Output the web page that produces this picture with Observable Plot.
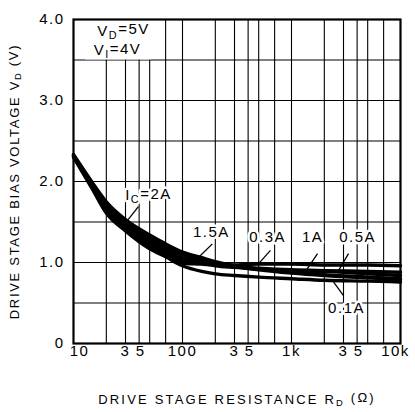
<!DOCTYPE html>
<html>
<head>
<meta charset="utf-8">
<script src="https://cdn.jsdelivr.net/npm/d3@7"></script>
<script src="https://cdn.jsdelivr.net/npm/@observablehq/plot@0.6"></script>
<style>
  html, body { margin: 0; padding: 0; background: #fff; }
  #chart svg { display: block; }
</style>
</head>
<body>
<div id="chart"></div>
<script>
// Drive stage resistance RD (ohm)
const rd = [10, 15, 20, 30, 50, 70, 100, 150, 200, 300, 500, 1000, 2000, 5000, 10000];
// Drive stage bias voltage VD (V) per collector current
const currents = ["2A", "1.5A", "1A", "0.5A", "0.3A", "0.1A"];
const vd_2A   = [2.33, 1.98, 1.75, 1.53, 1.34, 1.23, 1.13, 1.06, 1.01, 0.96, 0.92, 0.88, 0.85, 0.82, 0.80];
const vd_1_5A = [2.33, 1.97, 1.72, 1.50, 1.31, 1.20, 1.10, 1.03, 0.99, 0.95, 0.91, 0.87, 0.84, 0.81, 0.79];
const vd_1A   = [2.32, 1.95, 1.70, 1.47, 1.27, 1.16, 1.06, 1.01, 0.98, 0.95, 0.93, 0.91, 0.90, 0.89, 0.88];
const vd_0_5A = [2.31, 1.94, 1.67, 1.45, 1.24, 1.13, 1.02, 0.99, 0.96, 0.94, 0.92, 0.90, 0.89, 0.86, 0.84];
const vd_0_3A = [2.31, 1.92, 1.64, 1.42, 1.21, 1.10, 0.99, 0.98, 0.97, 0.97, 0.98, 0.98, 0.97, 0.97, 0.96];
const vd_0_1A = [2.30, 1.90, 1.61, 1.39, 1.17, 1.07, 0.96, 0.89, 0.86, 0.84, 0.82, 0.80, 0.78, 0.77, 0.76];
const series = [vd_2A, vd_1_5A, vd_1A, vd_0_5A, vd_0_3A, vd_0_1A];

// Axis ticks and labels
const xTicks = [10, 30, 50, 100, 300, 500, 1000, 3000, 5000, 10000];
const xTickLabels = ["10", "3", "5", "100", "3", "5", "1k", "3", "5", "10k"];
const xGrid = [20, 30, 40, 50, 70, 100, 200, 300, 400, 500, 700, 1000, 2000, 3000, 4000, 5000, 7000];
const yTicks = [0, 1, 2, 3, 4];
const yTickLabels = ["0", "1.0", "2.0", "3.0", "4.0"];
const yGrid = [0.5, 1, 1.5, 2, 2.5, 3, 3.5];

// Curve annotations (label position and leader line, in data units)
const curveLabels = ["I_{C}=2A", "1.5A", "0.3A", "1A", "0.5A", "0.1A"];
const labelR  = [48.7, 184, 603, 1560, 4036, 3199];
const labelV  = [1.83, 1.38, 1.31, 1.31, 1.31, 0.43];
const leadR1  = [39.4, 188, 641, 1734, 3334, 3000];
const leadV1  = [1.69, 1.23, 1.15, 1.11, 1.11, 0.59];
const leadR2  = [31.3, 137, 488, 1374, 2698, 2427];
const leadV2  = [1.52, 1.05, 0.97, 0.91, 0.90, 0.76];

// Condition box
const conditions = ["V_{D}=5V", "V_{I}=4V"];
const condR = [28.8, 25.3];
const condV = [3.86, 3.62];
const condBox = [{r1: 12.9, r2: 52, v1: 3.5, v2: 4.0}];

const rows = [];
currents.forEach((c, i) => rd.forEach((r, j) => rows.push({ic: c, rd: r, vd: series[i][j]})));
// the steep part of the family prints as one solid band
const band = rd.map((r, j) => ({rd: r, lo: d3.min(series, s => s[j]), hi: d3.max(series, s => s[j])}))
  .filter(d => d.rd <= 100);
const annos = curveLabels.map((t, i) => ({t, r: labelR[i], v: labelV[i], r1: leadR1[i], v1: leadV1[i], r2: leadR2[i], v2: leadV2[i]}));
const conds = conditions.map((t, i) => ({t, r: condR[i], v: condV[i]}));

const font = "'Liberation Sans', Arial, Helvetica, sans-serif";

const chart = Plot.plot({
  width: 415,
  height: 412,
  marginLeft: 73,
  marginRight: 15,
  marginTop: 19,
  marginBottom: 69,
  x: {type: "log", domain: [10, 10000], axis: null},
  y: {domain: [0, 4], axis: null},
  style: {fontFamily: font, color: "#000", background: "#fff", letterSpacing: "1.5px"},
  marks: [
    Plot.ruleX(xGrid, {stroke: "#000", strokeWidth: 1.1}),
    Plot.ruleY(yGrid, {stroke: "#000", strokeWidth: 1.1}),
    Plot.rect(condBox, {x1: "r1", x2: "r2", y1: "v1", y2: "v2", fill: "#fff", inset: 0}),
    Plot.areaY(band, {x: "rd", y1: "lo", y2: "hi", fill: "#000", curve: "monotone-x"}),
    Plot.line(rows, {x: "rd", y: "vd", z: "ic", stroke: "#000", strokeWidth: 3.4, curve: "monotone-x"}),
    Plot.link(annos, {x1: "r1", y1: "v1", x2: "r2", y2: "v2", stroke: "#000", strokeWidth: 1.3}),
    Plot.text(annos, {x: "r", y: "v", text: "t", fontSize: 15, fill: "#000", stroke: "#fff", strokeWidth: 5}),
    Plot.text(conds, {x: "r", y: "v", text: "t", fontSize: 15, fill: "#000"}),
    Plot.frame({stroke: "#000", strokeWidth: 2.2}),
    Plot.text(yTicks, {y: d => d, frameAnchor: "left", text: (d, i) => yTickLabels[i], textAnchor: "end", dx: -9, fontSize: 15, fill: "#000"}),
    Plot.text(xTicks, {x: d => d, frameAnchor: "bottom", text: (d, i) => xTickLabels[i], dy: 12, fontSize: 15, fill: "#000"}),
    Plot.text(["DRIVE STAGE RESISTANCE R_{D} (Ω)"], {frameAnchor: "bottom", textAnchor: "middle", text: d => d, dy: 60, fontSize: 13, fill: "#000"}),
    Plot.text(["DRIVE STAGE BIAS VOLTAGE V_{D} (V)"], {frameAnchor: "left", textAnchor: "middle", text: d => d, dx: -59, rotate: -90, fontSize: 13, fill: "#000"})
  ]
});

// axis titles: wider letter spacing as printed
d3.select(chart).selectAll("text").each(function() {
  const s = this.textContent;
  if (s.startsWith("DRIVE STAGE RESISTANCE")) this.setAttribute("letter-spacing", "2.2px");
  if (s.startsWith("DRIVE STAGE BIAS")) this.setAttribute("letter-spacing", "1.7px");
});

// small nudges for the x tick labels as printed on the original
const xNudge = {"10": 6, "5": -9, "10k": -5};
d3.select(chart).selectAll("text").each(function() {
  const s = this.textContent;
  if (!Object.prototype.hasOwnProperty.call(xNudge, s)) return;
  const t = this.getAttribute("transform") || "";
  const m = /translate\(([-\d.]+),([-\d.]+)\)/.exec(t);
  if (m && +m[2] > 340) this.setAttribute("transform", `translate(${+m[1] + xNudge[s]},${m[2]})`);
});

// subscripts written as _{...}
d3.select(chart).selectAll("text").each(function() {
  const s = this.textContent;
  if (!s.includes("_{")) return;
  this.textContent = "";
  const re = /_\{([^}]*)\}/g;
  let last = 0, m;
  const sel = d3.select(this);
  while ((m = re.exec(s))) {
    if (m.index > last) sel.append("tspan").text(s.slice(last, m.index));
    sel.append("tspan").attr("dy", "0.3em").attr("font-size", "72%").text(m[1]);
    sel.append("tspan").attr("dy", "-0.3em").text("");
    last = re.lastIndex;
  }
  const rest = s.slice(last);
  const tail = sel.selectAll("tspan").nodes().pop();
  if (tail) tail.textContent = rest; else sel.text(rest);
});

document.getElementById("chart").appendChild(chart);
</script>
</body>
</html>
